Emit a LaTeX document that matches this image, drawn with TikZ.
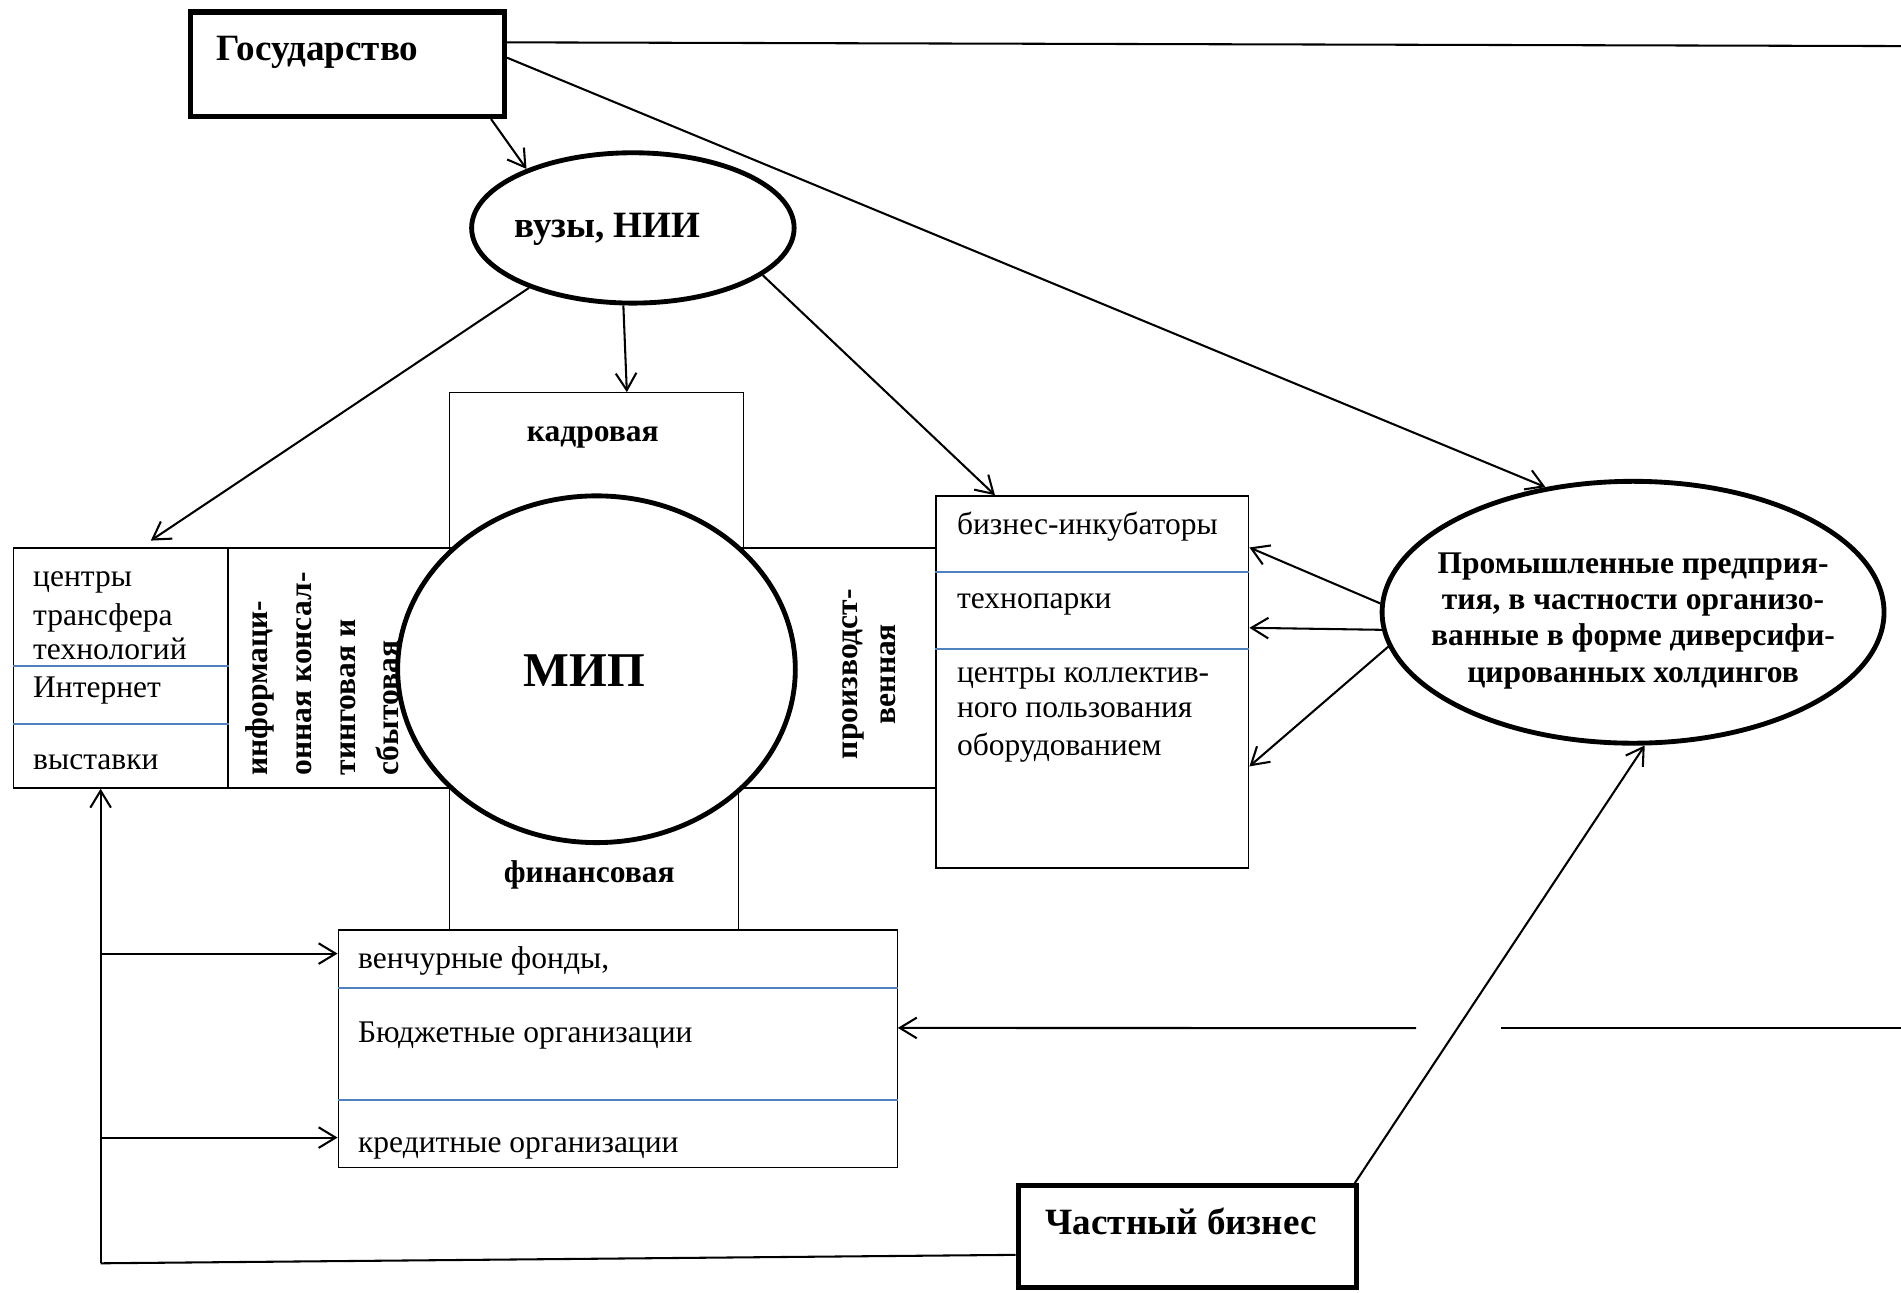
\documentclass[tikz,border=0pt]{standalone}
\usepackage{fontspec}
\setmainfont{Liberation Serif}
\usetikzlibrary{arrows.meta,shapes.geometric,fit,calc}
\definecolor{sepblue}{RGB}{79,129,189}
\tikzset{
  thinln/.style={line width=0.85pt},
  arr/.style={thinln, -{Straight Barb[length=7pt,width=8.5pt]}},
  heavy/.style={draw, line width=2.2pt, inner sep=0pt},
  plainbox/.style={draw, line width=0.55pt, inner sep=0pt},
  sepln/.style={draw=sepblue, line width=0.8pt},
  regtxt/.style={font=\fontsize{13}{15}\selectfont, inner sep=0pt},
  boldtxt/.style={font=\bfseries\fontsize{13}{15}\selectfont, inner sep=0pt},
  headtxt/.style={font=\bfseries\fontsize{15.3}{18}\selectfont, inner sep=0pt},
  oval/.style={ellipse, draw, line width=2pt, inner sep=0pt, fill=white},
}
\begin{document}
\begin{tikzpicture}[x=0.5pt,y=-0.5pt]
\path[use as bounding box] (0,0) rectangle (1568,1066);

% cross around MIP and side boxes
\node[plainbox, fit={(371,324)(613,452)}] (kad) {};
\node[plainbox, fit={(188,452)(371,650)}] (info) {};
\node[plainbox, fit={(613,452)(772,650)}] (proizv) {};
\node[plainbox, fit={(371,650)(609,767)}] (finb) {};
\node[plainbox, fit={(11,452)(188,650)}] (cent) {};
\node[plainbox, fit={(772,409)(1030,716)}] (biz) {};
\node[plainbox, fill=white, fit={(279,767)(740,963)}] (fin) {};

% separators
\draw[sepln] (cent.west |- 0,549) -- (cent.east |- 0,549);
\draw[sepln] (cent.west |- 0,597) -- (cent.east |- 0,597);
\draw[sepln] (biz.west |- 0,472) -- (biz.east |- 0,472);
\draw[sepln] (biz.west |- 0,535) -- (biz.east |- 0,535);
\draw[sepln] (fin.west |- 0,815) -- (fin.east |- 0,815);
\draw[sepln] (fin.west |- 0,907) -- (fin.east |- 0,907);

% MIP circle
\node[oval, minimum width=164pt, minimum height=143pt] (mip) at (492,552) {};
\node[font=\bfseries\fontsize{20}{24}\selectfont, inner sep=0pt, anchor=base] (mipt) at (482,566) {МИП};

% other ovals and boxes
\node[oval, minimum width=133pt, minimum height=62pt] (vuz) at (522,188) {};
\node[headtxt, anchor=base] (vuzt) at (501,196) {вузы, НИИ};
\node[oval, minimum width=207pt, minimum height=108pt] (prom) at (1347,505) {};
\node[boldtxt, align=center] (promt) at (1347,512) {Промышленные предприя-\\тия, в частности организо-\\ванные в форме диверсифи-\\цированных холдингов};
\node[heavy, fit={(157,10)(416,96)}] (gos) {};
\node[headtxt, anchor=base west] (gost) at (178,50) {Государство};
\node[heavy, fit={(840,978)(1119,1062)}] (chas) {};
\node[headtxt, anchor=base west] (chast) at (862,1018) {Частный бизнес};

% cross labels
\node[boldtxt, anchor=base] (kadt) at (489,364) {кадровая};
\node[boldtxt, anchor=base] (fint) at (486,728) {финансовая};
\node[font=\bfseries\fontsize{13}{18}\selectfont, inner sep=0pt, rotate=90, align=left, anchor=west] (infot) at (266,640) {информаци-\\онная консал-\\тинговая и\\сбытовая};
\node[font=\bfseries\fontsize{13}{16}\selectfont, inner sep=0pt, rotate=90, align=center] (proizvt) at (717,556) {производст-\\венная};

% box texts
\node[regtxt, anchor=base west] (c1) at (27,484) {центры};
\node[regtxt, anchor=base west] (c2) at (27,516) {трансфера};
\node[regtxt, anchor=base west] (c3) at (27,544) {технологий};
\node[regtxt, anchor=base west] (c4) at (27,575) {Интернет};
\node[regtxt, anchor=base west] (c5) at (27,635) {выставки};
\node[regtxt, anchor=base west] (b1) at (789,441) {бизнес-инкубаторы};
\node[regtxt, anchor=base west] (b2) at (789,502) {технопарки};
\node[regtxt, anchor=base west] (b3) at (789,563) {центры коллектив-};
\node[regtxt, anchor=base west] (b4) at (789,592) {ного пользования};
\node[regtxt, anchor=base west] (b5) at (789,623) {оборудованием};
\node[regtxt, anchor=base west] (f1t) at (295,799) {венчурные фонды,};
\node[regtxt, anchor=base west] (f2t) at (295,860) {Бюджетные организации};
\node[regtxt, anchor=base west] (f3t) at (295,951) {кредитные организации};

% connectors
\coordinate (offTop) at (1568,38);
\draw[thinln] ($(gos.north east)!0.3!(gos.south east)$) -- (offTop);
\draw[arr] ($(gos.north east)!0.44!(gos.south east)$) -- (prom.125);
\draw[arr] ($(gos.south west)!0.95!(gos.south east)$) -- (vuz.151);
\draw[arr, shorten >=5pt] (vuz.210) -- ($(cent.north west)!0.593!(cent.north east)$);
\draw[arr] (vuz.263) -- ($(kad.north west)!0.603!(kad.north east)$);
\draw[arr] (vuz.-20) -- ($(biz.north west)!0.19!(biz.north east)$);
\draw[arr] (prom.178) -- ($(biz.north east)!0.14!(biz.south east)$);
\draw[arr] (prom.184) -- ($(biz.north east)!0.355!(biz.south east)$);
\draw[arr] (prom.188) -- ($(biz.north east)!0.726!(biz.south east)$);
\draw[arr] ($(chas.north west)!0.987!(chas.north east)$) -- (prom.-85);

\coordinate (cornerL) at (83,1042);
\draw[thinln] ($(chas.north west)!0.67!(chas.south west)$) -- (cornerL);
\draw[arr] (cornerL) -- (cornerL |- cent.south);
\coordinate (fa) at ($(fin.north west)!0.102!(fin.south west)$);
\coordinate (fb) at ($(fin.north west)!0.872!(fin.south west)$);
\draw[arr] (cornerL |- fa) -- (fa);
\draw[arr] (cornerL |- fb) -- (fb);

\coordinate (offBot) at (1568,848);
\coordinate (jumpR) at (1238,848);
\coordinate (jumpL) at (1168,848);
\coordinate (fc) at ($(fin.north east)!0.413!(fin.south east)$);
\draw[thinln] (offBot) -- (jumpR);
\draw[arr] (jumpL) -- (fc);
\end{tikzpicture}
\end{document}
